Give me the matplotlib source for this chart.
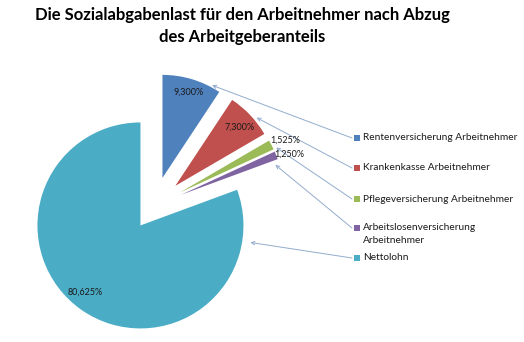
import matplotlib
matplotlib.use("Agg")
import matplotlib.pyplot as plt
import numpy as np

plt.rcParams['font.family'] = ['Lato', 'DejaVu Sans']

labels = ['Rentenversicherung Arbeitnehmer', 'Krankenkasse Arbeitnehmer',
          'Pflegeversicherung Arbeitnehmer',
          'Arbeitslosenversicherung\nArbeitnehmer', 'Nettolohn']
values = [9.300, 7.300, 1.525, 1.250, 80.625]
colors = ['#4F81BD', '#C0504D', '#9BBB59', '#8064A2', '#4BACC6']
explode = [0.285, 0.285, 0.285, 0.285, 0.23]

# label placement: fraction of radius and angle shift from wedge middle
lab_dist = [0.87, 0.84, 1.14, 1.12, 0.84]
lab_shift = [0, -1, -1, -2, -5]
# where the leader arrows touch each wedge
tip_dist = [1.02, 1.03, 1.03, 0.96, 1.08]
tip_ang = [61.8, 40.0, 25.0, 17.6, -8.8]
# legend rows (pixel y from top)
leg_y = [138, 168, 199, 228, 258]

W, H = 524, 342
fig = plt.figure(figsize=(W / 100, H / 100), dpi=100)
ax = fig.add_axes([0, 0, 1, 1])

R = 103
wedges, _ = ax.pie(values, explode=[e * R for e in explode], colors=colors,
                   startangle=90, counterclock=False, radius=R,
                   center=(154, H - 206), frame=True,
                   wedgeprops=dict(linewidth=0))
ax.set_xlim(0, W)
ax.set_ylim(0, H)
ax.set_aspect('equal')
ax.axis('off')

for w, v, d, s, td, ta, ly in zip(wedges, values, lab_dist, lab_shift,
                                  tip_dist, tip_ang, leg_y):
    cx, cy = w.center
    mid = np.deg2rad((w.theta1 + w.theta2) / 2 + s)
    txt = f'{v:.3f}%'.replace('.', ',')
    ax.text(cx + d * R * np.cos(mid), cy + d * R * np.sin(mid), txt,
            ha='center', va='center', fontsize=6.5, color='#1a1a1a')
    a = np.deg2rad(ta)
    tip = (cx + td * R * np.cos(a), cy + td * R * np.sin(a))
    ax.annotate('', xy=tip, xytext=(352, H - ly),
                arrowprops=dict(arrowstyle='->', color='#93ACCD', lw=0.7,
                                shrinkA=0, shrinkB=0,
                                mutation_scale=6))

for lab, c, ly in zip(labels, colors, leg_y):
    ax.scatter([357], [H - ly], marker='s', s=16, color=c, linewidths=0)
    two = '\n' in lab
    ax.text(363, H - ly + 5 if two else H - ly, lab, ha='left',
            va='top' if two else 'center',
            fontsize=7.3, color='#1a1a1a', linespacing=1.6)

ax.text(242, H - 15, 'Die Sozialabgabenlast für den Arbeitnehmer nach Abzug',
        ha='center', va='center', fontsize=12, fontweight='bold')
ax.text(242, H - 37, 'des Arbeitgeberanteils',
        ha='center', va='center', fontsize=12, fontweight='bold')

fig.savefig('out.png', dpi=100)
